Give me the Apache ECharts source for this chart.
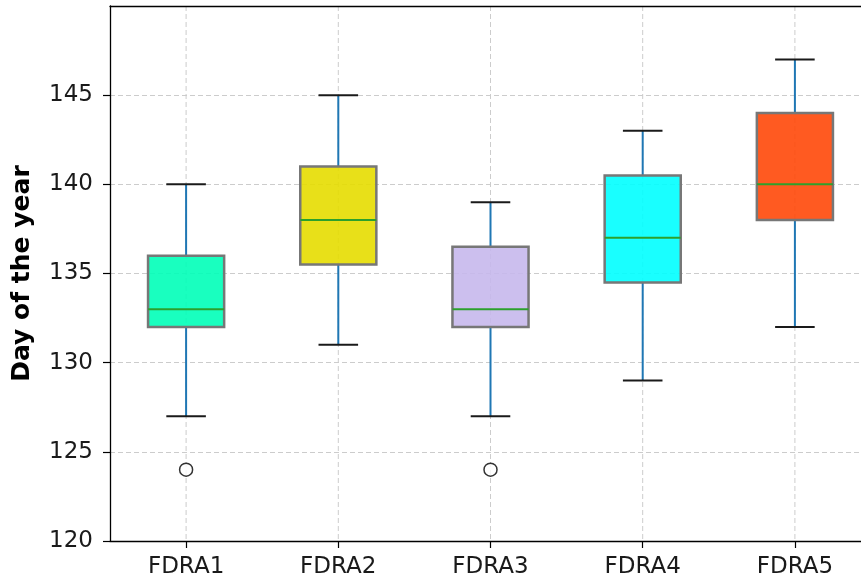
<!DOCTYPE html>
<html>
<head>
<meta charset="utf-8">
<script src="https://cdn.jsdelivr.net/npm/echarts@6/dist/echarts.min.js"></script>
<style>html,body{margin:0;padding:0;background:#fff;}#chart{width:861px;height:586px;}</style>
</head>
<body>
<div id="chart"></div>
<script>
const categories = ['FDRA1', 'FDRA2', 'FDRA3', 'FDRA4', 'FDRA5'];
const lowWhisker = [127, 131, 127, 129, 132];
const q1 = [132, 135.5, 132, 134.5, 138];
const median = [133, 138, 133, 137, 140];
const q3 = [136, 141, 136.5, 140.5, 144];
const highWhisker = [140, 145, 139, 143, 147];
const outlierCategory = [0, 2];
const outlierValue = [124, 124];
const boxColors = ['#00ffb8', '#e5dd00', '#c7b8ec', '#00ffff', '#ff4809'];
const yMin = 120, yMax = 150, yStep = 5;

const boxData = categories.map((c, i) => [i, lowWhisker[i], q1[i], median[i], q3[i], highWhisker[i]]);
const outlierData = outlierCategory.map((c, i) => [c, outlierValue[i]]);

const chart = echarts.init(document.getElementById('chart'), null, {renderer: 'canvas'});
const font = 'DejaVu Sans';

function renderBox(params, api) {
  const x = api.value(0);
  const pLow = api.coord([x, api.value(1)]);
  const pQ1 = api.coord([x, api.value(2)]);
  const pMed = api.coord([x, api.value(3)]);
  const pQ3 = api.coord([x, api.value(4)]);
  const pHigh = api.coord([x, api.value(5)]);
  const pTop = api.coord([x, yMax]);
  const pBot = api.coord([x, yMin]);
  const band = api.size([1, 0])[0];
  const bw = band * 0.5, cw = band * 0.26;
  const cx = pMed[0];
  const idx = params.dataIndex;
  return {
    type: 'group',
    children: [
      {type: 'line', shape: {x1: cx, y1: pTop[1], x2: cx, y2: pBot[1]},
        style: {stroke: '#cccccc', lineWidth: 1, lineDash: [5, 3]}},
      {type: 'line', shape: {x1: cx, y1: pQ3[1], x2: cx, y2: pHigh[1]},
        style: {stroke: '#1f77b4', lineWidth: 2}},
      {type: 'line', shape: {x1: cx, y1: pQ1[1], x2: cx, y2: pLow[1]},
        style: {stroke: '#1f77b4', lineWidth: 2}},
      {type: 'line', shape: {x1: cx - cw / 2, y1: pHigh[1], x2: cx + cw / 2, y2: pHigh[1]},
        style: {stroke: '#1a1a1a', lineWidth: 2}},
      {type: 'line', shape: {x1: cx - cw / 2, y1: pLow[1], x2: cx + cw / 2, y2: pLow[1]},
        style: {stroke: '#1a1a1a', lineWidth: 2}},
      {type: 'rect', shape: {x: cx - bw / 2, y: pQ3[1], width: bw, height: pQ1[1] - pQ3[1]},
        style: {fill: boxColors[idx], fillOpacity: 0.9, stroke: '#777777', lineWidth: 2.5}},
      {type: 'line', shape: {x1: cx - bw / 2, y1: pMed[1], x2: cx + bw / 2, y2: pMed[1]},
        style: {stroke: '#2ca02c', lineWidth: 2}}
    ]
  };
}

chart.setOption({
  animation: false,
  backgroundColor: '#fff',
  grid: {left: 110, top: 6, width: 761, height: 535, outerBoundsMode: 'none', containLabel: false,
    show: false},
  xAxis: [{
    type: 'category',
    data: categories,
    boundaryGap: true,
    axisLine: {show: true, lineStyle: {color: '#000', width: 1.3}},
    axisTick: {show: true, alignWithLabel: true, length: 7, lineStyle: {color: '#000', width: 1.2}},
    axisLabel: {fontFamily: font, fontSize: 23, color: '#1a1a1a', margin: 15},
    splitLine: {show: false}
  }, {
    type: 'category',
    data: categories,
    position: 'top',
    boundaryGap: true,
    axisLine: {show: true, lineStyle: {color: '#000', width: 1.3}},
    axisTick: {show: false},
    axisLabel: {show: false},
    splitLine: {show: false},
    z: 10
  }],
  yAxis: {
    type: 'value',
    min: yMin, max: yMax, interval: yStep,
    name: 'Day of the year',
    nameLocation: 'middle',
    nameGap: 75,
    nameTextStyle: {fontFamily: font, fontSize: 25, fontWeight: 'bold', color: '#000'},
    axisLine: {show: true, lineStyle: {color: '#000', width: 1.3}},
    axisTick: {show: true, length: 7, lineStyle: {color: '#000', width: 1.2}},
    axisLabel: {fontFamily: font, fontSize: 23, color: '#1a1a1a', margin: 17, showMaxLabel: false},
    splitLine: {show: true, lineStyle: {color: '#cccccc', width: 1, type: [5, 3]}}
  },
  series: [
    {
      type: 'custom',
      renderItem: renderBox,
      encode: {x: 0, y: [1, 2, 3, 4, 5]},
      data: boxData,
      z: 2
    },
    {
      type: 'scatter',
      data: outlierData,
      symbol: 'circle',
      symbolSize: 13,
      itemStyle: {color: '#fff', borderColor: '#000', borderWidth: 1.5},
      z: 3
    }
  ]
});
</script>
</body>
</html>
